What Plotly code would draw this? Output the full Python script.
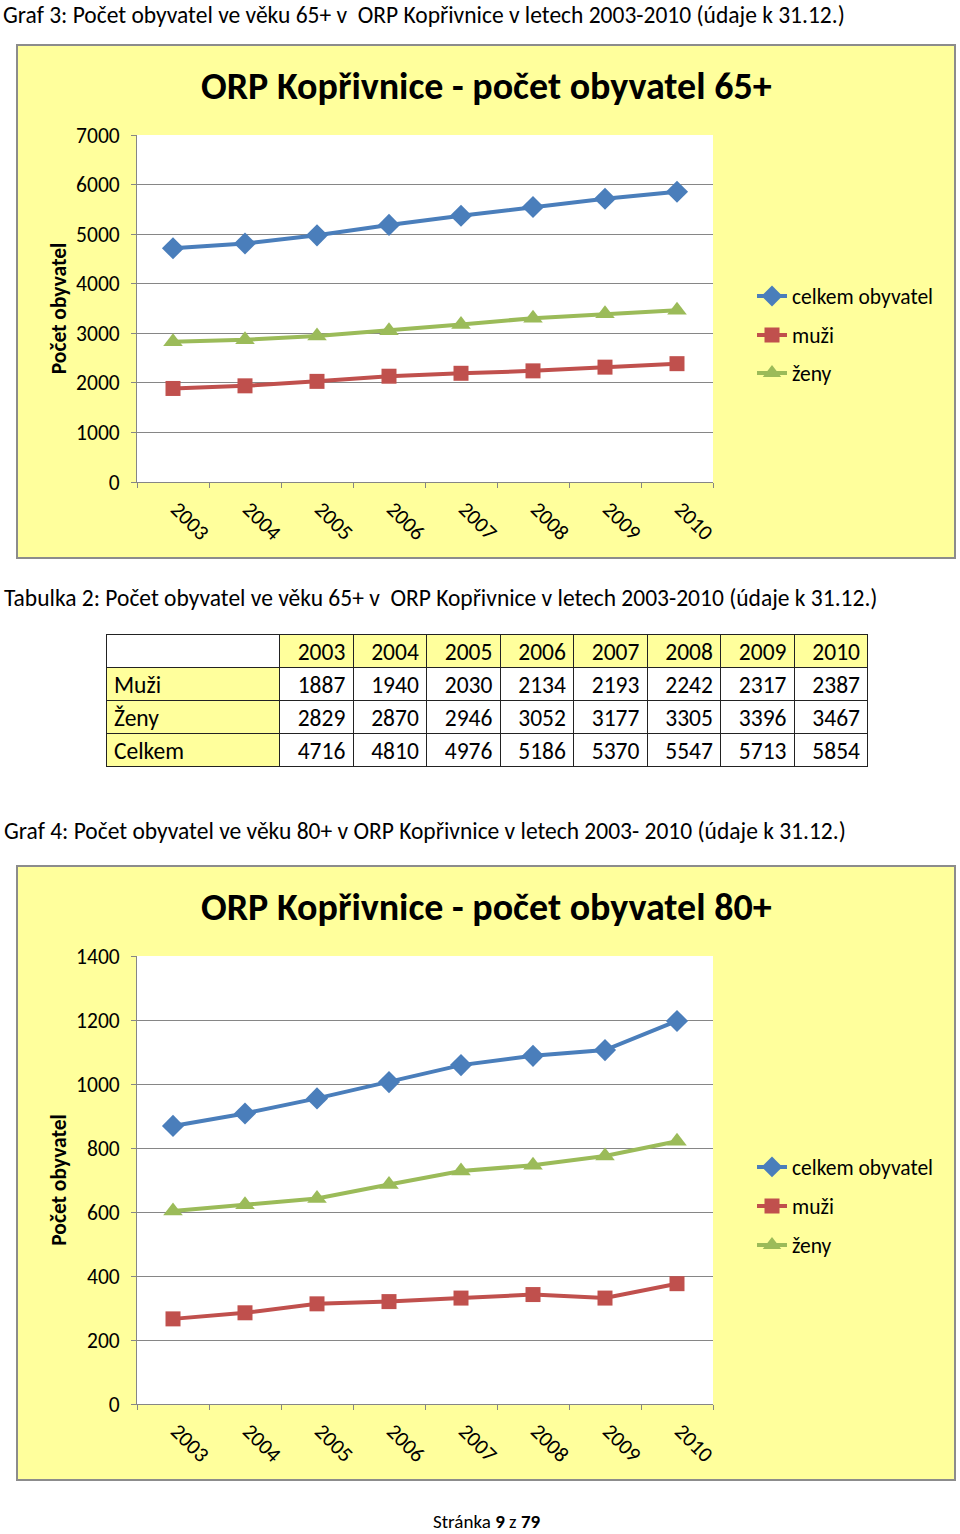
import plotly.graph_objects as go

W, H = 960, 1534

years = ["2003", "2004", "2005", "2006", "2007", "2008", "2009", "2010"]

# Graf 3 / Tabulka 2 (65+)
muzi_65 = [1887, 1940, 2030, 2134, 2193, 2242, 2317, 2387]
zeny_65 = [2829, 2870, 2946, 3052, 3177, 3305, 3396, 3467]
celkem_65 = [4716, 4810, 4976, 5186, 5370, 5547, 5713, 5854]

# Graf 4 (80+) values
muzi_80 = [266, 285, 313, 320, 331, 342, 331, 376]
zeny_80 = [603, 623, 642, 686, 728, 746, 775, 821]
celkem_80 = [869, 908, 955, 1006, 1059, 1088, 1106, 1197]

series_names = ["celkem obyvatel", "muži", "ženy"]
row_labels = ["Muži", "Ženy", "Celkem"]

FONT = "Carlito, Lato, sans-serif"
YELLOW = "#FFFF9C"
BLUE, RED, GREEN = "#4A7EBB", "#C0504D", "#9BBB59"
DOC_SIZE = 23.5
CHART_SIZE = 21.5


def px(x):
    return x / W


def py(y):
    return 1 - y / H


fig = go.Figure()

styles = [
    (BLUE, "diamond", 17),
    (RED, "square", 15),
    (GREEN, "triangle-up", 17),
]

charts = [
    ("x", "y", [celkem_65, muzi_65, zeny_65], 1),
    ("x2", "y2", [celkem_80, muzi_80, zeny_80], 4),
]
for xa, ya, data, lstart in charts:
    for i, (vals, name, (col, sym, sz)) in enumerate(zip(data, series_names, styles)):
        lname = "legend" if lstart + i == 1 else f"legend{lstart + i}"
        fig.add_trace(go.Scatter(
            x=years, y=vals, name=name, mode="lines+markers",
            line=dict(color=col, width=4),
            marker=dict(color=col, symbol=sym, size=sz),
            xaxis=xa, yaxis=ya, legend=lname, showlegend=True,
        ))

# Table
table_cols = [row_labels] + [[m, z, c] for m, z, c in zip(muzi_65, zeny_65, celkem_65)]
fig.add_trace(go.Table(
    domain=dict(x=[px(106), px(869)], y=[py(768), py(634)]),
    columnwidth=[174] + [73.6] * 8,
    header=dict(
        values=[""] + years,
        fill_color=["white"] + [YELLOW] * 8,
        line=dict(color="#222222", width=1),
        align=["left"] + ["right"] * 8,
        font=dict(family=FONT, size=DOC_SIZE, color="black"),
        height=33,
    ),
    cells=dict(
        values=table_cols,
        fill_color=[[YELLOW] * 3] + [["white"] * 3] * 8,
        line=dict(color="#222222", width=1),
        align=["left"] + ["right"] * 8,
        font=dict(family=FONT, size=DOC_SIZE, color="black"),
        height=33,
    ),
))

shapes = []
# Chart background boxes and white plot areas
for top, bot, ptop, pbot in [(45, 558, 135, 482), (866, 1480, 956, 1404)]:
    shapes.append(dict(type="rect", xref="paper", yref="paper", layer="below",
                       x0=px(17), x1=px(955), y0=py(bot), y1=py(top),
                       fillcolor=YELLOW, line=dict(color="#8C8C8C", width=2)))
    shapes.append(dict(type="rect", xref="paper", yref="paper", layer="below",
                       x0=px(137), x1=px(713), y0=py(pbot), y1=py(ptop),
                       fillcolor="white", line=dict(width=0)))

axis_common = dict(
    showline=True, linecolor="#868686", linewidth=1,
    ticks="outside", ticklen=5, tickcolor="#868686", automargin=False,
    tickfont=dict(family=FONT, size=CHART_SIZE, color="black"),
)
xaxis_common = dict(axis_common, type="category", tickson="boundaries",
                    tickangle=45, showgrid=False, range=[-0.5, 7.5],
                    ticklabelstandoff=5, ticklabelshift=4)
yaxis_common = dict(axis_common, showgrid=True, gridcolor="#868686", gridwidth=1,
                    zeroline=False, ticklabelstandoff=7,
                    title=dict(text="<b>Počet obyvatel</b>", standoff=3,
                               font=dict(family=FONT, size=CHART_SIZE, color="black")))

annotations = [
    dict(text="Graf 3: Počet obyvatel ve věku 65+ v  ORP Kopřivnice v letech 2003-2010 (údaje k 31.12.)",
         x=px(2), y=1, xanchor="left", yanchor="top", borderpad=0, font=dict(size=DOC_SIZE)),
    dict(text="Tabulka 2: Počet obyvatel ve věku 65+ v  ORP Kopřivnice v letech 2003-2010 (údaje k 31.12.)",
         x=px(2), y=py(598), xanchor="left", yanchor="middle", font=dict(size=DOC_SIZE)),
    dict(text="Graf 4: Počet obyvatel ve věku 80+ v ORP Kopřivnice v letech 2003- 2010 (údaje k 31.12.)",
         x=px(2), y=py(831), xanchor="left", yanchor="middle", font=dict(size=DOC_SIZE)),
    dict(text="<b>ORP Kopřivnice - počet obyvatel 65+</b>",
         x=px(486), y=py(86), xanchor="center", yanchor="middle", font=dict(size=38)),
    dict(text="<b>ORP Kopřivnice - počet obyvatel 80+</b>",
         x=px(486), y=py(907), xanchor="center", yanchor="middle", font=dict(size=38)),
    dict(text="Stránka <b>9</b> z <b>79</b>",
         x=px(487), y=0, xanchor="center", yanchor="bottom", borderpad=0, font=dict(size=19)),
]
for a in annotations:
    a.update(xref="paper", yref="paper", showarrow=False)
    a["font"].update(family=FONT, color="black")

legends = {}
for idx, yy in zip(range(1, 7), [296, 335, 373, 1167, 1206, 1245]):
    key = "legend" if idx == 1 else f"legend{idx}"
    legends[key] = dict(x=px(752), y=py(yy), xanchor="left", yanchor="middle",
                        bgcolor="rgba(0,0,0,0)", borderwidth=0,
                        font=dict(family=FONT, size=CHART_SIZE, color="black"),
                        itemwidth=30, tracegroupgap=0)

fig.update_layout(
    width=W, height=H,
    margin=dict(l=0, r=0, t=0, b=0, autoexpand=False),
    paper_bgcolor="white", plot_bgcolor="rgba(0,0,0,0)",
    font=dict(family=FONT, color="black"),
    xaxis=dict(xaxis_common, domain=[px(137), px(713)], anchor="y"),
    yaxis=dict(yaxis_common, domain=[py(482), py(135)], anchor="x",
               range=[0, 7000], dtick=1000),
    xaxis2=dict(xaxis_common, domain=[px(137), px(713)], anchor="y2"),
    yaxis2=dict(yaxis_common, domain=[py(1404), py(956)], anchor="x2",
                range=[0, 1400], dtick=200),
    shapes=shapes,
    annotations=annotations,
    **legends,
)

fig.write_html(
    "out.html",
    config={"displayModeBar": False},
    post_script=(
        "document.documentElement.style.margin='0';"
        "document.documentElement.style.overflow='hidden';"
        "document.body.style.margin='0';document.body.style.padding='0';"
        "document.body.style.overflow='hidden';"
        "var gd=document.getElementById('{plot_id}');"
        "gd.style.position='absolute';gd.style.top='0px';gd.style.left='0px';"
    ),
)
